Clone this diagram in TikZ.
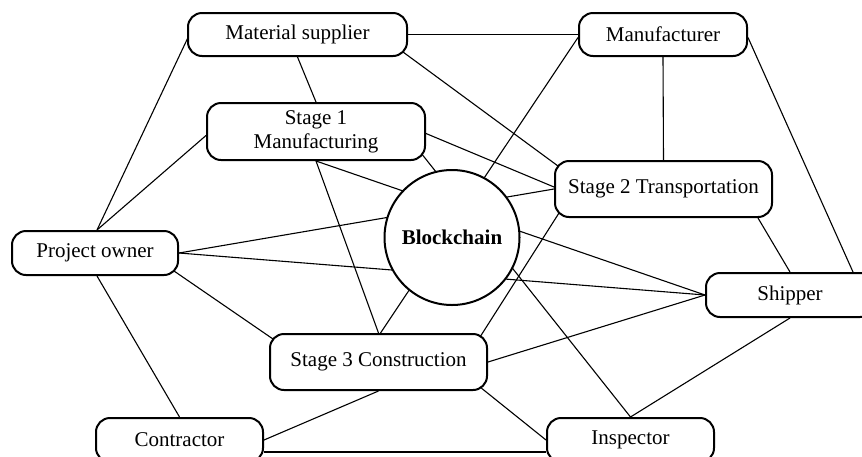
\documentclass[tikz,border=0pt]{standalone}
\usepackage{fontspec}
\setmainfont{Liberation Serif}
\usetikzlibrary{calc,backgrounds}
\begin{document}
\begin{tikzpicture}[x=1pt,y=-1pt,
  box/.style={draw, line width=2pt, rounded corners=14pt, fill=white, inner sep=0pt,
    align=center, font=\fontsize{21}{24}\selectfont},
  hub/.style={circle, draw, line width=2pt, fill=white, inner sep=0pt,
    font=\bfseries\fontsize{21}{24}\selectfont},
  link/.style={line width=1.1pt}]
\useasboundingbox (0,0) rectangle (862,456);
\clip (0,0) rectangle (862,456);

\node[box, minimum width=219pt, minimum height=43pt] (ms) at (297.5,34.5) {Material supplier};
\node[box, minimum width=168pt, minimum height=43pt] (mf) at (663,34.5) {Manufacturer};
\node[box, minimum width=218pt, minimum height=57pt] (s1) at (316,131.5) {Stage 1\\Manufacturing};
\node[box, minimum width=217pt, minimum height=56pt] (s2) at (663.5,189) {Stage 2 Transportation};
\node[hub, minimum size=135pt] (bc) at (452,237.5) {Blockchain};
\node[box, minimum width=166pt, minimum height=44pt] (po) at (95,253) {Project owner};
\node[box, minimum width=217pt, minimum height=56pt] (s3) at (378.5,362) {Stage 3 Construction};
\node[box, minimum width=168pt, minimum height=44pt] (sh) at (790,295) {Shipper};
\node[box, minimum width=167pt, minimum height=44pt] (co) at (179.5,440) {Contractor};
\node[box, minimum width=167pt, minimum height=44pt] (in) at (630.5,440) {Inspector};

\begin{pgfonlayer}{background}
\fill[white] (0,0) rectangle (862,456);
% Material supplier
\draw[link] ($(ms.west)+(1,3)$) -- ($(po.north)+(2,0)$);
\draw[link] (ms.east) -- (mf.west);
\draw[link] ($(ms.south east)+(-5,-5)$) -- ($(s2.north west)+(4,6)$);
\draw[link] (ms.south) -- (s1.north);
% Stage 1
\draw[link] ($(s1.west)+(0,4)$) -- ($(po.north)+(2,0)$);
\draw[link] ($(s1.east)+(0,2)$) -- ($(s2.west)+(0,-2)$);
\draw[link] ($(s1.south east)+(-5,-8)$) -- (in.north);
\draw[link] (s1.south) -- (sh.west);
\draw[link] (s1.south) -- (s3.north);
% Manufacturer
\draw[link] (mf.south) -- (s2.north);
\draw[link] ($(mf.west)+(0,3)$) -- ($(s3.north)+(2,0)$);
\draw[link] ($(mf.east)+(0,3)$) -- ($(sh.north)+(63,0)$);
% Stage 2
\draw[link] ($(s2.south east)+(-15,0)$) -- (sh.north);
% Project owner
\draw[link] (po.east) -- (s2.west);
\draw[link] (po.east) -- (sh.west);
\draw[link] ($(po.south east)+(-5,-5)$) -- ($(s3.north west)+(4,6)$);
\draw[link] ($(po.south)+(2,0)$) -- (co.north);
% Stage 3
\draw[link] ($(s3.north east)+(-8,4)$) -- ($(s2.south west)+(5,-5)$);
\draw[link] (s3.east) -- (sh.west);
\draw[link] ($(s3.south east)+(-8,-4)$) -- (in.west);
\draw[link] (s3.south) -- (co.east);
% bottom
\draw[link] ($(co.east)+(0,12)$) -- ($(in.west)+(0,12)$);
\draw[link] (in.north) -- (sh.south);
\end{pgfonlayer}
\end{tikzpicture}
\end{document}
